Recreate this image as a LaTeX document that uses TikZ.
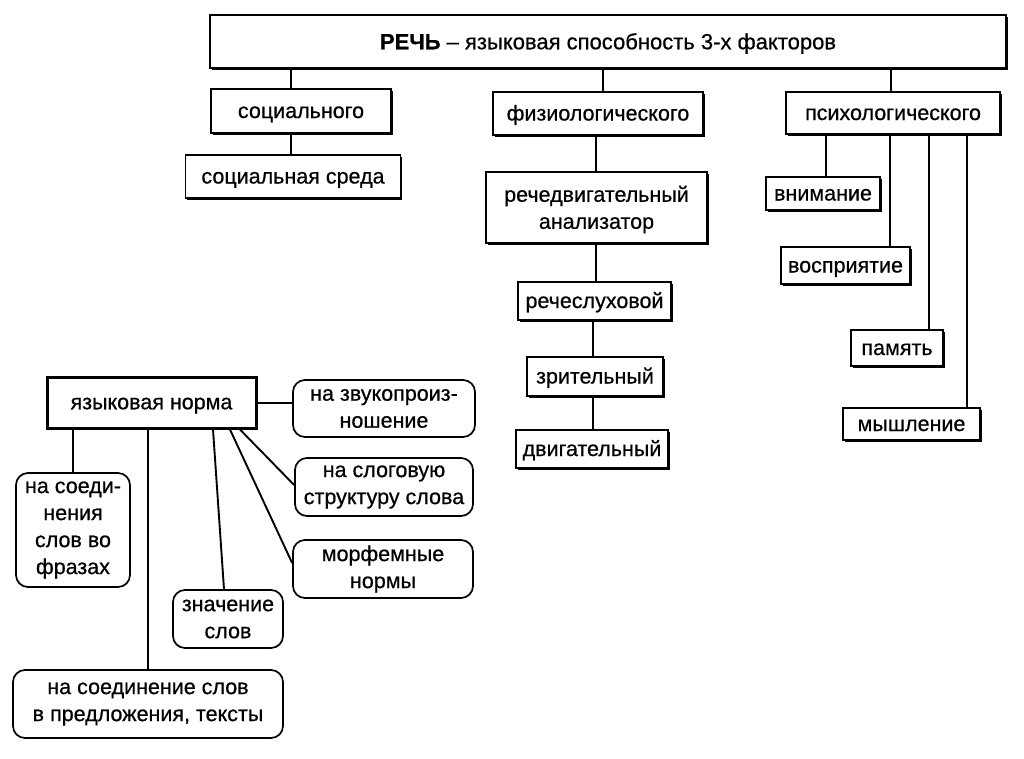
\documentclass[tikz,border=0pt]{standalone}
\usepackage{fontspec}
\setmainfont{Liberation Sans}[FakeBold=0.6]
\usetikzlibrary{shadows}
\tikzset{
  sq/.style={draw, line width=1.5pt, fill=white, inner sep=0pt,
    font=\fontsize{21.5}{27}\selectfont, text height=18.5pt, text depth=4.5pt,
    drop shadow={shadow xshift=1.6pt, shadow yshift=-1.6pt, fill=black, opacity=1}},
  sqm/.style={draw, line width=1.5pt, fill=white, inner sep=0pt,
    drop shadow={shadow xshift=1.6pt, shadow yshift=-1.6pt, fill=black, opacity=1}},
  txt/.style={align=center, inner sep=0pt, font=\fontsize{21.5}{27}\selectfont},
  rb/.style={draw, line width=1.7pt, fill=white, rounded corners=12pt, align=center, inner sep=0pt,
    font=\fontsize{21.5}{27}\selectfont},
  ln/.style={line width=1.9pt}
}
\begin{document}
\begin{tikzpicture}[x=1pt,y=-1pt]
\useasboundingbox (0,0) rectangle (1024,758);
% top
\node[sq, minimum width=796pt, minimum height=53pt, font=\fontsize{22}{26}\selectfont, text height=20pt, text depth=4.5pt] (title) at (608,41.5) {\textbf{РЕЧЬ} – языковая способность 3-х факторов};
\node[sq, minimum width=180pt, minimum height=44pt] (soc) at (301,111) {социального};
\node[sq, minimum width=215pt, minimum height=43pt] (socs) at (293,176.5) {социальная среда};
\node[sq, minimum width=210pt, minimum height=43pt] (phys) at (598,113.5) {физиологического};
\node[sqm, minimum width=221pt, minimum height=71pt] (rech) at (596.5,207.5) {};
\node[txt] (rechT) at ([yshift=-2pt]rech.center) {речедвигательный\\анализатор};
\node[sq, minimum width=153pt, minimum height=38pt] (sluh) at (594.5,301) {речеслуховой};
\node[sq, minimum width=136pt, minimum height=39pt] (zrit) at (595,376.5) {зрительный};
\node[sq, minimum width=152pt, minimum height=38pt] (dvig) at (592,449) {двигательный};
\node[sq, minimum width=214pt, minimum height=42pt] (psy) at (893,113) {психологического};
\node[sq, minimum width=114pt, minimum height=33pt] (vnim) at (823,193.5) {внимание};
\node[sq, minimum width=129pt, minimum height=37pt] (vosp) at (845.5,265.5) {восприятие};
\node[sq, minimum width=92pt, minimum height=36pt] (pam) at (897,348) {память};
\node[sq, minimum width=137pt, minimum height=32pt] (mysh) at (911.5,424) {мышление};
\coordinate (x291) at (291,0);
\coordinate (x603) at (603,0);
\coordinate (x596) at (596,0);
\coordinate (x593) at (593,0);
\coordinate (x891) at (891,0);
\coordinate (x826) at (826,0);
\coordinate (x890) at (890,0);
\coordinate (x929) at (929,0);
\coordinate (x967) at (967,0);
\draw[ln] (x291 |- title.south) -- (x291 |- soc.north);
\draw[ln] (x291 |- soc.south) -- (x291 |- socs.north);
\draw[ln] (x603 |- title.south) -- (x603 |- phys.north);
\draw[ln] (x596 |- phys.south) -- (x596 |- rech.north);
\draw[ln] (x596 |- rech.south) -- (x596 |- sluh.north);
\draw[ln] (x593 |- sluh.south) -- (x593 |- zrit.north);
\draw[ln] (x593 |- zrit.south) -- (x593 |- dvig.north);
\draw[ln] (x891 |- title.south) -- (x891 |- psy.north);
\draw[ln] (x826 |- psy.south) -- (x826 |- vnim.north);
\draw[ln] (x890 |- psy.south) -- (x890 |- vosp.north);
\draw[ln] (x929 |- psy.south) -- (x929 |- pam.north);
\draw[ln] (x967 |- psy.south) -- (x967 |- mysh.north);
% left part
\node[draw, line width=3pt, fill=white, inner sep=0pt, minimum width=209pt, minimum height=51pt,
  font=\fontsize{21.5}{27}\selectfont, text height=18pt, text depth=4.5pt] (norm) at (151.5,402.5) {языковая норма};
\node[rb, minimum width=182pt, minimum height=57pt] (zvuk) at (384,408.5) {на звукопроиз-\\ношение};
\node[rb, minimum width=178pt, minimum height=58pt] (slog) at (384,487) {на слоговую\\структуру слова};
\node[rb, minimum width=180pt, minimum height=58pt] (morf) at (383,569) {морфемные\\нормы};
\node[rb, minimum width=110pt, minimum height=58pt] (znach) at (228,619) {значение\\слов};
\node[rb, minimum width=114pt, minimum height=114pt] (fraz) at (73,530) {на соеди-\\нения\\слов во\\фразах};
\node[rb, minimum width=270pt, minimum height=68pt] (pred) at (148,704) {на соединение слов\\в предложения, тексты};
\coordinate (x73) at (73,0);
\coordinate (x148) at (148,0);
\coordinate (x213) at (213,0);
\coordinate (x224) at (224,0);
\coordinate (x230) at (230,0);
\coordinate (x240) at (240,0);
\coordinate (y403) at (0,403);
\coordinate (y563) at (0,563);
\coordinate (y485) at (0,485);
\draw[ln] (norm.east |- y403) -- (zvuk.west |- y403);
\draw[ln] (x240 |- norm.south) -- (slog.west |- y485);
\draw[ln] (x230 |- norm.south) -- (morf.west |- y563);
\draw[ln] (x213 |- norm.south) -- (x224 |- znach.north);
\draw[ln] (x73 |- norm.south) -- (x73 |- fraz.north);
\draw[ln] (x148 |- norm.south) -- (x148 |- pred.north);
\end{tikzpicture}
\end{document}
